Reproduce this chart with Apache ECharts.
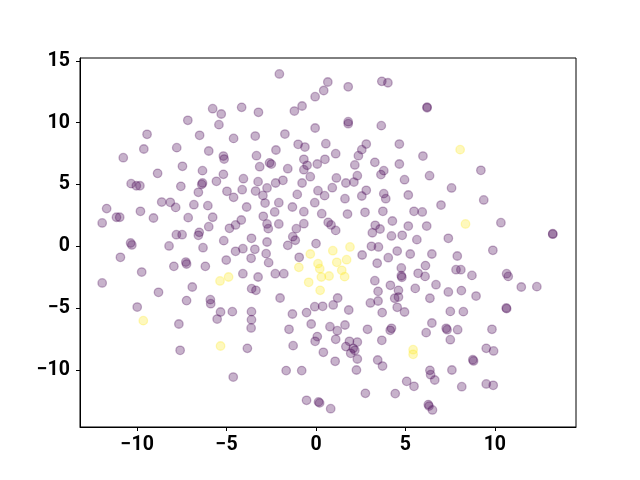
<!DOCTYPE html>
<html><head><meta charset="utf-8">
<script src="https://cdn.jsdelivr.net/npm/echarts@6/dist/echarts.min.js"></script>
<style>html,body{margin:0;padding:0;background:#fff}#c{width:640px;height:480px}</style>
</head><body><div id="c"></div>
<script>
const xTicks = [-10, -5, 0, 5, 10];
const yTicks = [-10, -5, 0, 5, 10, 15];
const purplePoints = [[-2.05,13.94],[3.68,13.34],[4.02,13.23],[0.66,13.29],[0.43,12.6],[1.8,12.9],[-0.05,12.1],[6.21,11.26],[6.21,11.2],[-4.16,11.24],[-5.78,11.13],[-5.3,10.7],[-3.22,10.84],[-0.78,11.35],[-1.21,10.94],[-7.17,10.19],[1.8,10.08],[1.8,9.92],[-5.43,9.84],[-0.05,9.57],[3.65,9.76],[-9.45,9.06],[-6.51,8.98],[-4.61,8.73],[-3.4,8.92],[-1.74,9.08],[-9.63,7.87],[-7.79,7.98],[-6.0,7.71],[-1.0,8.25],[-0.62,8.03],[0.55,8.3],[2.56,7.82],[2.81,8.27],[4.66,8.27],[-2.24,7.79],[1.1,7.49],[-10.78,7.17],[-5.18,7.3],[-5.14,7.06],[-3.33,7.33],[-0.68,7.04],[0.5,7.04],[2.37,7.33],[5.98,7.3],[-2.6,6.75],[-2.5,6.65],[-7.47,6.47],[-3.15,6.44],[-0.5,6.55],[0.07,6.66],[2.17,6.58],[3.29,6.79],[4.66,6.66],[-6.35,6.12],[-1.58,6.28],[-0.68,6.2],[3.79,6.12],[9.22,6.15],[-8.86,5.9],[-5.18,5.82],[-0.32,5.63],[1.14,5.53],[3.63,5.8],[2.31,5.71],[6.35,5.71],[-4.06,5.47],[-1.85,5.34],[4.95,5.39],[-10.34,5.07],[-10.05,4.9],[-9.85,4.9],[-7.56,4.85],[-6.39,5.01],[-6.35,5.12],[-5.57,5.26],[-3.24,5.23],[-2.26,5.12],[-0.78,5.12],[1.67,5.12],[2.12,5.2],[-4.98,4.45],[-4.13,4.58],[-3.38,4.47],[-2.74,4.72],[0.11,4.5],[0.91,4.74],[2.81,4.53],[7.58,4.72],[-6.58,4.37],[-2.97,4.12],[-1.05,4.2],[-4.61,3.96],[0.48,4.1],[1.62,3.85],[2.56,4.07],[3.79,4.26],[3.9,3.85],[5.16,4.15],[-11.71,3.05],[-8.63,3.58],[-8.15,3.56],[-7.85,3.15],[-6.83,3.37],[-6.05,3.29],[-3.88,3.18],[-2.85,3.5],[-2.08,3.53],[-1.32,3.18],[-0.07,3.53],[6.99,3.34],[9.38,3.75],[-11.16,2.35],[-10.98,2.35],[-9.82,2.83],[-9.09,2.29],[-7.15,2.32],[-5.78,2.35],[-2.95,2.43],[-2.31,2.78],[-0.68,2.8],[0.32,2.64],[1.76,2.61],[2.74,2.75],[3.74,2.83],[5.48,2.83],[5.94,2.78],[-11.96,1.89],[-6.0,1.59],[-4.84,1.46],[-4.5,1.73],[-4.18,2.13],[-2.74,1.81],[-2.67,1.43],[-2.08,1.81],[-0.68,1.83],[-1.1,1.43],[0.68,1.94],[0.84,1.73],[1.1,1.29],[3.31,1.7],[3.58,1.4],[3.15,1.1],[4.27,2.05],[5.16,1.64],[6.19,1.64],[10.34,1.91],[13.24,1.02],[13.24,0.98],[-7.81,0.94],[-7.49,0.94],[-6.53,1.13],[-6.58,0.89],[4.22,0.84],[4.82,0.89],[-3.61,0.65],[-1.3,0.78],[-1.16,0.49],[-5.16,0.46],[-2.74,0.35],[0,0.22],[5.64,0.54],[7.4,0.65],[-10.37,0.27],[-10.3,0.11],[-8.22,0.03],[-1.58,0.08],[-6.32,-0.11],[3.1,0],[3.49,-0.05],[-3.42,-0.24],[-4.09,-0.19],[-4.5,-0.4],[-2.79,-0.59],[2.58,-0.7],[4.54,-0.38],[5.27,-0.62],[6.48,-0.62],[9.89,-0.32],[-10.94,-0.89],[-5.02,-1.11],[-3.63,-0.97],[-0.94,-0.89],[4.04,-0.92],[7.9,-0.78],[-7.28,-1.27],[-7.24,-1.43],[-7.95,-1.62],[-2.65,-1.32],[3.42,-1.37],[6.12,-1.56],[-6.19,-1.62],[4.77,-1.75],[7.83,-1.89],[8.1,-1.89],[10.66,-2.21],[10.75,-2.43],[-9.75,-2.08],[-4.09,-2.21],[-2.28,-2.21],[-1.8,-2.21],[5.71,-2.18],[6.1,-2.43],[-3.24,-2.48],[4.77,-2.38],[4.8,-2.5],[8.72,-2.35],[3.29,-2.78],[-11.96,-2.96],[-6.92,-3.29],[-3.6,-3.42],[-3.36,-3.56],[4.16,-3.15],[6.71,-3.1],[11.48,-3.29],[12.35,-3.26],[3.47,-3.64],[4.61,-3.56],[5.55,-3.4],[7.4,-3.69],[8.13,-3.58],[-8.81,-3.72],[8.95,-4.02],[-2.01,-4.18],[1.21,-4.18],[4.4,-4.2],[4.61,-4.1],[-7.24,-4.39],[-5.91,-4.31],[-5.89,-4.64],[3.47,-4.42],[6.37,-4.2],[3.04,-4.58],[-0.07,-4.88],[0.37,-4.85],[0.96,-4.74],[4.54,-4.93],[-10.0,-4.91],[10.64,-4.98],[10.66,-5.04],[1.83,-5.15],[-5.34,-5.31],[-4.68,-5.28],[-3.61,-5.28],[4.95,-5.31],[7.51,-5.26],[8.24,-5.28],[3.7,-5.36],[-1.32,-5.47],[-0.53,-5.36],[-5.53,-5.88],[-3.61,-5.93],[-7.67,-6.28],[-0.27,-6.28],[1.62,-6.36],[6.48,-6.2],[-3.63,-6.6],[-1.51,-6.71],[0.78,-6.5],[1.19,-6.82],[2.88,-6.71],[4.15,-6.79],[4.22,-6.63],[7.28,-6.63],[7.33,-6.74],[7.92,-6.74],[9.84,-6.71],[6.16,-6.98],[0.07,-7.3],[-0.05,-7.68],[1.1,-7.52],[3.68,-7.6],[7.51,-7.55],[1.87,-7.68],[2.31,-7.74],[1.67,-8.11],[2.08,-8.25],[-7.6,-8.41],[-1.28,-8.03],[-3.84,-8.25],[1.94,-8.65],[2.17,-8.41],[0.41,-8.57],[9.52,-8.25],[9.93,-8.46],[2.31,-9.11],[3.45,-9.19],[1.07,-9.3],[8.77,-9.17],[8.81,-9.27],[3.72,-9.68],[-1.67,-10.05],[-0.8,-10.05],[2.26,-10.0],[6.37,-10.03],[7.6,-10.0],[6.41,-10.38],[6.64,-10.81],[-4.63,-10.57],[5.07,-10.92],[5.48,-11.32],[8.15,-11.35],[9.52,-11.13],[9.91,-11.24],[2.76,-11.89],[4.43,-11.91],[-0.53,-12.45],[0.14,-12.58],[0.2,-12.66],[0.82,-13.13],[6.28,-12.8],[6.32,-12.92],[6.51,-13.23]];
const yellowPoints = [[8.06,7.82],[8.36,1.81],[1.9,-0.05],[0.94,-0.35],[-0.32,-0.62],[1.71,-1.08],[1.16,-1.29],[0.11,-1.4],[-0.96,-1.7],[0.21,-1.81],[1.44,-1.94],[-4.89,-2.48],[-5.37,-2.8],[0.3,-2.48],[0.73,-2.4],[1.6,-2.45],[-0.41,-2.91],[0.23,-3.56],[-9.66,-6.01],[-5.34,-8.06],[5.43,-8.36],[5.43,-8.73]];

const fmt = v => String(v).replace('-', '\u2212');
const labelStyle = {fontFamily: 'Roboto', fontWeight: 'bold', fontSize: 19.5, color: '#000', formatter: fmt};
const chart = echarts.init(document.getElementById('c'), null, {renderer: 'canvas'});
function ser(data, rgb) {
  const c = 'rgba(' + rgb + ',0.3)';
  return {type: 'scatter', data: data, symbol: 'circle', symbolSize: 8.5,
    itemStyle: {color: c, borderColor: c, borderWidth: 1.3, opacity: 1},
    emphasis: {disabled: true}, silent: true};
}
chart.setOption({
  animation: false,
  grid: {left: 80, right: 64, top: 58, bottom: 53, show: true, borderColor: '#000', borderWidth: 1, backgroundColor: 'transparent'},
  xAxis: {type: 'value', min: -13.2, max: 14.54,
    axisLine: {show: true, onZero: false, lineStyle: {color: '#000', width: 1}},
    axisTick: {show: true, customValues: xTicks, length: 4, lineStyle: {color: '#000'}},
    axisLabel: Object.assign({customValues: xTicks, margin: 8}, labelStyle),
    splitLine: {show: false}},
  yAxis: {type: 'value', min: -14.61, max: 15.23,
    axisLine: {show: true, onZero: false, lineStyle: {color: '#000', width: 1}},
    axisTick: {show: true, customValues: yTicks, length: 4, lineStyle: {color: '#000'}},
    axisLabel: Object.assign({customValues: yTicks, margin: 10}, labelStyle),
    splitLine: {show: false}},
  series: [ser(purplePoints, '68,1,84'), ser(yellowPoints, '253,231,37')]
});
</script></body></html>
